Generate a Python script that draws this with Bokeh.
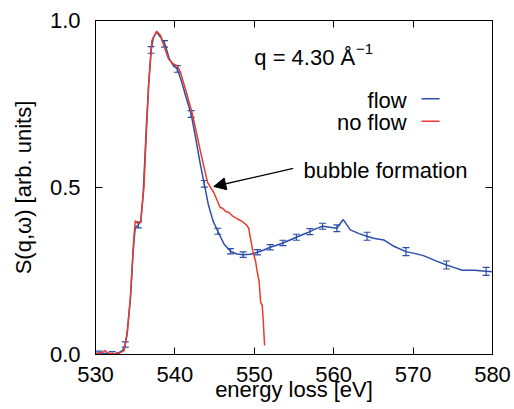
from bokeh.plotting import figure
from bokeh.models import (Range1d, FixedTicker, LinearAxis, Label, Arrow, NormalHead,
                          Whisker, TeeHead, ColumnDataSource, NumeralTickFormatter,
                          CustomJSTickFormatter)
from bokeh.embed import file_html
from bokeh.resources import INLINE

# ---------------- data ----------------
flow_x = [530.0, 530.5, 531.0, 531.5, 532.0, 532.5, 533.0, 533.4, 533.75, 534.0, 534.4,
          534.75, 535.0, 535.4, 535.7, 536.0, 536.4, 536.7, 537.0, 537.3, 537.7, 538.2,
          538.8, 539.3, 539.8, 540.3, 540.8, 541.4, 542.05, 542.6, 543.2, 543.7, 544.2,
          544.8, 545.4, 546.2, 547.0, 547.8, 548.6, 549.5, 550.4, 551.2, 552.0, 552.8,
          553.6, 554.5, 555.3, 556.2, 557.0, 557.8, 558.6, 559.5, 560.4, 561.2, 562.1,
          563.2, 564.2, 565.0, 566.3, 567.5, 569.1, 570.3, 571.3, 572.8, 574.2, 575.2,
          576.2, 577.7, 579.2, 580.0]
flow_y = [0.004, 0.004, 0.003, 0.004, 0.003, 0.004, 0.006, 0.012, 0.03, 0.07, 0.17,
          0.31, 0.38, 0.388, 0.40, 0.48, 0.68, 0.81, 0.91, 0.95, 0.965, 0.95,
          0.925, 0.885, 0.865, 0.855, 0.82, 0.77, 0.72, 0.65, 0.57, 0.51, 0.45,
          0.40, 0.369, 0.33, 0.309, 0.301, 0.299, 0.300, 0.306, 0.313, 0.321, 0.327,
          0.334, 0.343, 0.351, 0.360, 0.368, 0.377, 0.384, 0.381, 0.378, 0.404, 0.373,
          0.362, 0.354, 0.348, 0.343, 0.325, 0.308, 0.302, 0.296, 0.281, 0.268, 0.260,
          0.252, 0.252, 0.249, 0.248]

noflow_x = [530.0, 530.5, 531.0, 531.2, 531.5, 532.0, 532.5, 533.0, 533.3, 533.6, 534.0,
            534.4, 534.75, 535.0, 535.3, 535.7, 535.9, 536.1, 536.4, 536.7, 537.1, 537.7,
            538.2, 538.6, 539.2, 539.8, 540.3, 540.7, 541.5, 542.2, 543.2, 544.1, 544.5,
            544.9, 545.7, 546.0, 546.4, 546.8, 547.2, 547.6, 548.2, 548.6, 549.0, 549.3,
            549.5, 549.85, 550.15, 550.35, 550.6, 550.8, 551.0, 551.15, 551.3]
noflow_y = [0.003, 0.003, 0.008, 0.012, 0.005, 0.002, 0.002, 0.004, 0.008, 0.012, 0.062,
            0.17, 0.32, 0.40, 0.393, 0.396, 0.45, 0.50, 0.66, 0.81, 0.94, 0.968,
            0.955, 0.925, 0.885, 0.87, 0.865, 0.845, 0.78, 0.72, 0.61, 0.516, 0.50,
            0.485, 0.44, 0.438, 0.428, 0.425, 0.416, 0.41, 0.402, 0.396, 0.388, 0.378,
            0.35, 0.306, 0.28, 0.25, 0.22, 0.157, 0.147, 0.09, 0.027]

err_x = [530.45, 532.1, 533.75, 535.4, 537.0, 538.7, 540.3, 542.05, 543.7, 545.4, 547.0,
         548.6, 550.4, 552.0, 553.6, 555.3, 557.0, 558.6, 560.4, 564.2, 569.1, 574.2, 579.2]
err_y = [0.004, 0.003, 0.03, 0.388, 0.912, 0.93, 0.855, 0.72, 0.511, 0.369, 0.309,
         0.299, 0.306, 0.321, 0.334, 0.351, 0.368, 0.384, 0.378, 0.354, 0.308, 0.268, 0.249]
err_d = [0.006, 0.006, 0.008, 0.009, 0.01, 0.01, 0.01, 0.01, 0.01, 0.009, 0.008,
         0.008, 0.008, 0.008, 0.008, 0.009, 0.009, 0.009, 0.01, 0.012, 0.012, 0.012, 0.012]

x_ticks = [530, 540, 550, 560, 570, 580]
y_ticks = [0.0, 0.5, 1.0]

series_names = ["flow", "no flow"]
q_text = "q = 4.30 Å"
q_sup = "−1"
arrow_text = "bubble formation"
x_title = "energy loss [eV]"
y_title = "S(q,ω) [arb. units]"

# ---------------- style ----------------
FONT = "Liberation Sans"
FS = "22px"
BLUE = "#2b4ea8"
RED = "#ea3b2e"

p = figure(width=514, height=409, x_range=Range1d(530, 580), y_range=Range1d(0, 1),
           output_backend="svg", toolbar_location=None,
           min_border_left=95, min_border_right=22, min_border_top=20, min_border_bottom=55)
p.background_fill_color = "white"
p.border_fill_color = "white"
p.outline_line_color = "black"
p.outline_line_width = 1
p.xgrid.visible = False
p.ygrid.visible = False

bottom_ax = p.xaxis[0]
left_ax = p.yaxis[0]
top_ax = LinearAxis()
right_ax = LinearAxis()
p.add_layout(top_ax, "above")
p.add_layout(right_ax, "right")

for ax in [bottom_ax, top_ax]:
    ax.ticker = FixedTicker(ticks=x_ticks)
for ax in [left_ax, right_ax]:
    ax.ticker = FixedTicker(ticks=y_ticks)

for ax in [bottom_ax, top_ax, left_ax, right_ax]:
    ax.major_tick_in = 7
    ax.major_tick_out = 0
    ax.minor_tick_in = 0
    ax.minor_tick_out = 0
    ax.major_tick_line_color = "black"
    ax.axis_line_color = "black"
    ax.major_label_text_font = FONT
    ax.major_label_text_font_size = FS
    ax.major_label_text_color = "black"
    ax.axis_label_text_font = FONT
    ax.axis_label_text_font_size = FS
    ax.axis_label_text_font_style = "normal"
    ax.axis_label_text_color = "black"

for ax in [top_ax, right_ax]:
    ax.formatter = CustomJSTickFormatter(code="return '';")
    ax.major_label_standoff = 0

bottom_ax.major_label_standoff = 12
bottom_ax.axis_label = x_title
bottom_ax.axis_label_standoff = -8

left_ax.major_label_standoff = 15
left_ax.formatter = NumeralTickFormatter(format="0.0")
left_ax.axis_label = y_title
left_ax.axis_label_standoff = 11

# ---------------- marks ----------------
p.line(flow_x, flow_y, line_color=BLUE, line_width=1.5)
p.line(noflow_x, noflow_y, line_color=RED, line_width=1.5)

err_src = ColumnDataSource(data=dict(
    x=err_x,
    lower=[y - d for y, d in zip(err_y, err_d)],
    upper=[y + d for y, d in zip(err_y, err_d)],
))
p.add_layout(Whisker(base="x", lower="lower", upper="upper", source=err_src,
                     dimension="height", line_color=BLUE, line_width=1.2,
                     upper_head=TeeHead(size=7, line_color=BLUE, line_width=1.2),
                     lower_head=TeeHead(size=7, line_color=BLUE, line_width=1.2)))

# ---------------- legend (text left, key line right) ----------------
leg_text_x = 569.2
leg_text_y = [0.7605, 0.6946]
leg_key_x = [571.06, 573.33]
leg_key_y = [0.7656, 0.6985]
for name, ty, ky, col in zip(series_names, leg_text_y, leg_key_y, [BLUE, RED]):
    p.add_layout(Label(x=leg_text_x, y=ty, text=name, text_align="right",
                       text_baseline="alphabetic", text_font=FONT, text_font_size=FS,
                       text_color="black"))
    p.line(leg_key_x, [ky, ky], line_color=col, line_width=1.5)

# ---------------- annotations ----------------
p.add_layout(Label(x=550.0, y=0.889, text=q_text, text_align="left",
                   text_baseline="alphabetic", text_font=FONT, text_font_size=FS,
                   text_color="black"))
p.add_layout(Label(x=562.8, y=0.914, text=q_sup, text_align="left",
                   text_baseline="alphabetic", text_font=FONT, text_font_size="15px",
                   text_color="black"))

p.add_layout(Arrow(end=NormalHead(size=12, fill_color="black", line_color="black"),
                   x_start=554.9, y_start=0.557, x_end=544.9, y_end=0.503,
                   line_color="black", line_width=1.3))
p.add_layout(Label(x=556.2, y=0.551, text=arrow_text, text_align="left",
                   text_baseline="alphabetic", text_font=FONT, text_font_size=FS,
                   text_color="black"))

open("out.html", "w").write(file_html(p, INLINE))
